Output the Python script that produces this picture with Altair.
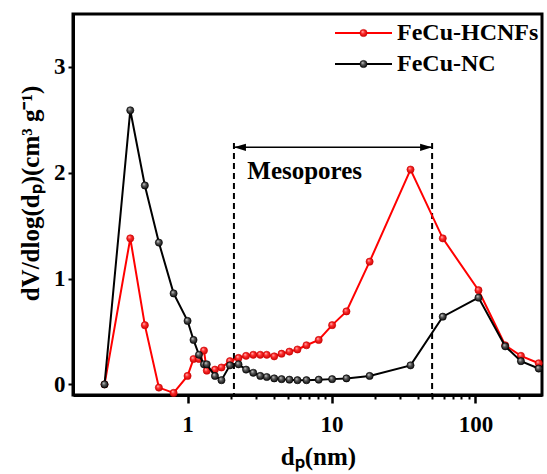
import altair as alt
import pandas as pd

# ---- data ----
pore_nm = [0.265, 0.40, 0.505, 0.632, 0.80, 1.0, 1.1, 1.2, 1.3, 1.36, 1.55, 1.72,
           1.97, 2.26, 2.55, 2.86, 3.2, 3.55, 4.0, 4.5, 5.1, 5.8, 6.7, 8.15,
           10.1, 12.7, 18.4, 35.4, 59.3, 105, 161, 207, 275]
hcnfs = [0.0, 1.38, 0.56, -0.03, -0.08, 0.08, 0.24, 0.24, 0.32, 0.13, 0.14, 0.16,
         0.22, 0.25, 0.27, 0.28, 0.28, 0.28, 0.265, 0.29, 0.31, 0.33, 0.37, 0.42,
         0.56, 0.69, 1.16, 2.03, 1.38, 0.89, 0.37, 0.27, 0.20]
nc = [0.0, 2.59, 1.88, 1.34, 0.86, 0.60, 0.42, 0.28, 0.19, 0.19, 0.08, 0.04,
      0.18, 0.19, 0.14, 0.11, 0.08, 0.07, 0.057, 0.05, 0.045, 0.04, 0.04, 0.045,
      0.05, 0.057, 0.08, 0.18, 0.64, 0.82, 0.36, 0.22, 0.15]
series_names = ["FeCu-HCNFs", "FeCu-NC"]
series_colors = ["#ff0000", "#000000"]

meso_bounds = [2.1, 50]
dash_top = 2.28
arrow_y = 2.24
meso_label = "Mesopores"
meso_label_x = 2.6
meso_label_y = 2.02

x_major = [1, 10, 100]
x_minor = [2, 3, 4, 5, 6, 7, 8, 9, 20, 30, 40, 50, 60, 70, 80, 90, 200]
y_ticks = [0, 1, 2, 3]
x_domain = [0.16, 290]
y_domain = [-0.1, 3.5]

# ---- tables ----
df = pd.DataFrame({
    "d": pore_nm * 2,
    "v": hcnfs + nc,
    "s": [series_names[0]] * len(pore_nm) + [series_names[1]] * len(pore_nm),
})
df_dash = pd.DataFrame({"x": meso_bounds, "top": [dash_top] * 2, "bottom": [y_domain[0]] * 2})
df_arrow = pd.DataFrame({"x": [meso_bounds[0]], "x2": [meso_bounds[1]], "y": [arrow_y]})
df_heads = pd.DataFrame({"x": meso_bounds, "y": [arrow_y] * 2, "side": ["L", "R"]})
df_text = pd.DataFrame({"x": [meso_label_x], "y": [meso_label_y], "t": [meso_label]})

FONT = "Liberation Serif"
xscale = alt.Scale(type="log", domain=x_domain, nice=False)
yscale = alt.Scale(domain=y_domain, nice=False, zero=False)

major_test = "datum.value==1||datum.value==10||datum.value==100"
xaxis = alt.Axis(
    values=x_minor + x_major,
    labelExpr=f"({major_test}) ? format(datum.value, 'd') : ''",
    tickSize={"condition": {"test": major_test, "value": 8}, "value": 4},
    tickWidth={"condition": {"test": major_test, "value": 2.5}, "value": 2},
    tickColor="black", domainColor="black", domainWidth=3,
    labelFont=FONT, labelFontSize=23, labelFontWeight="bold", labelColor="black",
    labelPadding=10, labelOverlap=False, labelFlush=False,
    title="dₚ(nm)", titleFont=FONT, titleFontSize=25, titleFontWeight="bold",
    titleColor="black", titlePadding=8, titleX=245, grid=False,
)
yaxis = alt.Axis(
    values=y_ticks, format="d", tickSize=5, tickWidth=2, tickColor="black",
    domainColor="black", domainWidth=3,
    labelFont=FONT, labelFontSize=23, labelFontWeight="bold", labelColor="black",
    labelPadding=3,
    title="dV/dlog(dₚ)(cm³ g⁻¹)", titleFont=FONT, titleFontSize=25,
    titleFontWeight="bold", titleColor="black", titlePadding=10, titleY=179,
    grid=False,
)

X = alt.X("d:Q", scale=xscale, axis=xaxis)
Y = alt.Y("v:Q", scale=yscale, axis=yaxis)


def sphere(c_hi, c_mid, c_lo):
    return alt.RadialGradient(
        gradient="radial",
        stops=[alt.GradientStop(offset=0, color=c_hi),
               alt.GradientStop(offset=0.4, color=c_mid),
               alt.GradientStop(offset=1, color=c_lo)],
        x1=0.35, y1=0.3, r1=0, x2=0.5, y2=0.5, r2=0.6,
    )


grads = [sphere("#ffc8c8", "#ff2a2a", "#c00000"), sphere("#d8d8d8", "#555555", "#000000")]
edge = ["#d00000", "#000000"]

base = alt.Chart(df)
layers = []

# mesopore annotation
dash = alt.Chart(df_dash).mark_rule(strokeDash=[6, 4], strokeWidth=2, color="black").encode(
    x=alt.X("x:Q", scale=xscale, axis=xaxis), y=alt.Y("top:Q", scale=yscale, axis=yaxis),
    y2="bottom:Q")
arrow = alt.Chart(df_arrow).mark_rule(strokeWidth=1.5, color="black").encode(
    x=alt.X("x:Q", scale=xscale), x2="x2:Q", y=alt.Y("y:Q", scale=yscale))
head_l = alt.Chart(df_heads).transform_filter("datum.side=='L'").mark_point(
    shape="M0,0L1,-0.3L1,0.3Z", size=576, filled=True, color="black", opacity=1).encode(
    x=alt.X("x:Q", scale=xscale), y=alt.Y("y:Q", scale=yscale))
head_r = alt.Chart(df_heads).transform_filter("datum.side=='R'").mark_point(
    shape="M0,0L-1,-0.3L-1,0.3Z", size=576, filled=True, color="black", opacity=1).encode(
    x=alt.X("x:Q", scale=xscale), y=alt.Y("y:Q", scale=yscale))
text = alt.Chart(df_text).mark_text(
    align="left", baseline="middle", font=FONT, fontSize=25, fontWeight="bold",
    color="black").encode(
    x=alt.X("x:Q", scale=xscale), y=alt.Y("y:Q", scale=yscale), text="t:N")
layers += [dash, arrow, head_l, head_r, text]

for i, name in enumerate(series_names):
    sub = base.transform_filter(alt.datum.s == name)
    line = sub.mark_line(strokeWidth=2, color=series_colors[i]).encode(x=X, y=Y)
    pts = sub.mark_point(filled=True, size=52, fill=grads[i], stroke=edge[i],
                         strokeWidth=0.6, opacity=1).encode(x=X, y=Y)
    layers += [line, pts]

# manual legend (pixel positions inside the plot area)
leg_x0, leg_x1, leg_lbl, leg_y0, leg_dy = 262, 319, 324, 19, 31
for i, name in enumerate(series_names):
    ldf = pd.DataFrame({"name": [name]})
    yv = alt.value(leg_y0 + i * leg_dy)
    layers.append(alt.Chart(ldf).mark_rule(strokeWidth=2, color=series_colors[i]).encode(
        x=alt.value(leg_x0), x2=alt.value(leg_x1), y=yv))
    layers.append(alt.Chart(ldf).mark_point(filled=True, size=52, fill=grads[i],
                                            stroke=edge[i], strokeWidth=0.6,
                                            opacity=1).encode(
        x=alt.value((leg_x0 + leg_x1) / 2), y=yv))
    layers.append(alt.Chart(ldf).mark_text(
        align="left", baseline="middle", font=FONT, fontSize=24, fontWeight="bold",
        color="black").encode(x=alt.value(leg_lbl), y=yv, text="name:N"))

chart = alt.layer(*layers).properties(
    width=469, height=381,
    padding={"left": 73, "top": 14, "right": 5, "bottom": 79},
    autosize=alt.AutoSizeParams(type="none"),
    background="white",
).configure_view(stroke="black", strokeWidth=3)

chart.save("out.html", embed_options={"renderer": "svg", "actions": False})
